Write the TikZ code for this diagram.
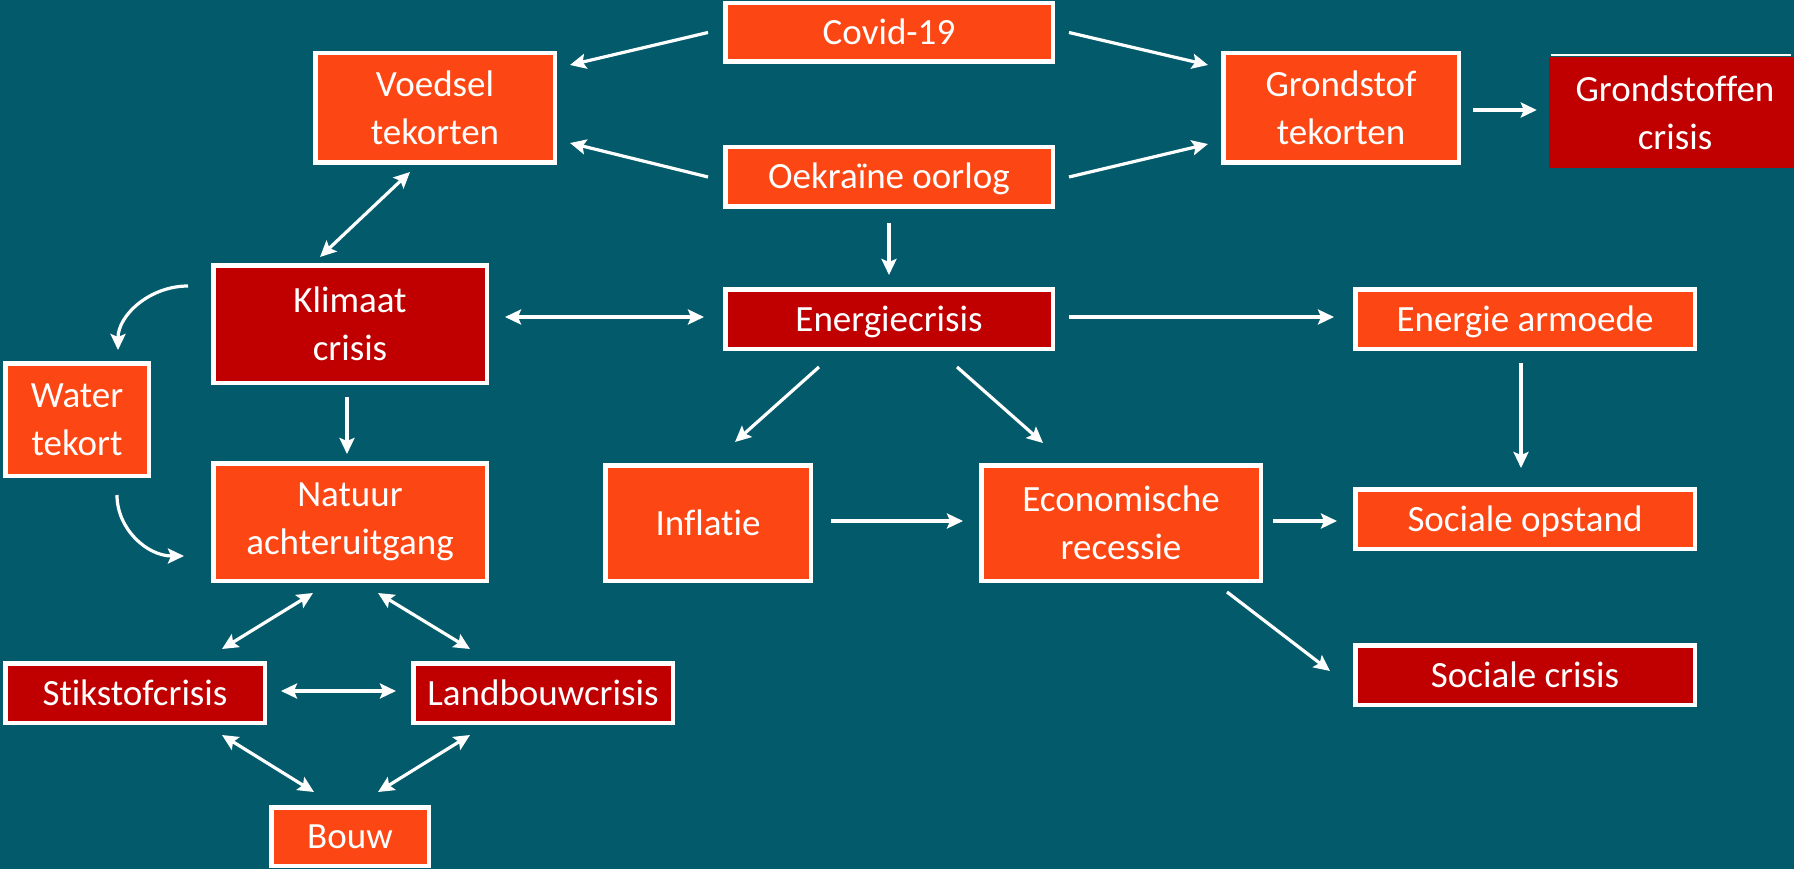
\documentclass[tikz,border=0pt]{standalone}
\usepackage{fontspec}
\setmainfont{Carlito}[Ligatures=NoCommon]
\usetikzlibrary{arrows.meta,calc}
\definecolor{bgc}{HTML}{025A6B}
\definecolor{orng}{HTML}{FC4614}
\definecolor{dred}{HTML}{C00000}
\tikzset{
 box/.style={draw=white, line width=4.5pt, inner sep=0pt, text=white, font=\fontsize{37}{48}\selectfont, align=center},
 ob/.style={box, fill=orng},
 rb/.style={box, fill=dred},
 one/.style={text height=29pt, text depth=5pt},
 tipa/.tip={Stealth[length=16pt,width=15pt,inset=3pt]},
 arr/.style={draw=white, line width=3.2pt, -tipa},
 darr/.style={draw=white, line width=3.2pt, tipa-tipa},
}
\begin{document}
\begin{tikzpicture}[x=1pt,y=-1pt]
\fill[bgc] (0,0) rectangle (1794,869);
\useasboundingbox (0,0) rectangle (1794,869);

% nodes
\node[ob,one,minimum width=327.5pt,minimum height=58.5pt] (covid) at (889,32.5) {Covid-19};
\node[ob,minimum width=239.5pt,minimum height=109.5pt] (voedsel) at (435,108) {Voedsel\\tekorten};
\node[ob,one,minimum width=327.5pt,minimum height=59.5pt] (oek) at (889,177) {Oekraïne oorlog};
\node[ob,minimum width=235.5pt,minimum height=109.5pt] (grond) at (1341,108) {Grondstof\\tekorten};
\node[fill=dred,inner sep=0pt,text=white,font=\fontsize{37}{48}\selectfont,align=center,minimum width=252pt,minimum height=111pt] (gcr) at (1675,112.5) {Grondstoffen\\crisis};
\draw[white,line width=2pt] ([shift={(2,-1.3)}]gcr.north west) -- ([shift={(-10,-1.3)}]gcr.north east);
\node[rb,minimum width=273.5pt,minimum height=117.5pt] (klimaat) at (350,324) {Klimaat\\crisis};
\node[rb,one,minimum width=327.5pt,minimum height=59.5pt] (energie) at (889,319) {Energiecrisis};
\node[ob,one,minimum width=339.5pt,minimum height=59.5pt] (armoede) at (1525,319) {Energie armoede};
\node[ob,minimum width=143.5pt,minimum height=112.5pt] (water) at (77,419.5) {Water\\tekort};
\node[ob,minimum width=273.5pt,minimum height=117.5pt] (natuur) at (350,522) {Natuur\\achteruitgang};
\node[ob,one,minimum width=205.5pt,minimum height=115.5pt] (inflatie) at (708,523) {Inflatie};
\node[ob,minimum width=279.5pt,minimum height=115.5pt] (econ) at (1121,523) {Economische\\recessie};
\node[ob,one,minimum width=339.5pt,minimum height=59.5pt] (opstand) at (1525,519) {Sociale opstand};
\node[rb,one,minimum width=339.5pt,minimum height=59.5pt] (scrisis) at (1525,675) {Sociale crisis};
\node[rb,one,minimum width=259.5pt,minimum height=59.5pt] (stik) at (135,693) {Stikstofcrisis};
\node[rb,one,minimum width=259.5pt,minimum height=59.5pt] (land) at (543,693) {Landbouwcrisis};
\node[ob,one,minimum width=157.5pt,minimum height=58.5pt] (bouw) at (350,836.5) {Bouw};

% connectors
\draw[arr] ([shift={(-15,0)}]covid.west) -- ([shift={(13,14)}]voedsel.north east);
\draw[arr] ([shift={(-15,0)}]oek.west) -- ([shift={(13,-22)}]voedsel.south east);
\draw[arr] ([shift={(14,0)}]covid.east) -- ([shift={(-13,14)}]grond.north west);
\draw[arr] ([shift={(14,0)}]oek.east) -- ([shift={(-13,-21)}]grond.south west);
\draw[arr] ([shift={(12,2)}]grond.east) -- ([shift={(-12,-2.5)}]gcr.west);
\draw[darr] ([shift={(-25,7)}]voedsel.south) -- ([shift={(-30,-6)}]klimaat.north);
\draw[arr] ([shift={(-23,-38)}]klimaat.west) .. controls +(-38,0) and +(0,-35) .. ([shift={(41,-11)}]water.north);
\draw[darr] ([shift={(16,-7)}]klimaat.east) -- ([shift={(-19,-2)}]energie.west);
\draw[arr] ([shift={(0,14)}]oek.south) -- ([shift={(0,-12)}]energie.north);
\draw[arr] ([shift={(-3,12)}]klimaat.south) -- ([shift={(-3,-7)}]natuur.north);
\draw[arr] ([shift={(40,17)}]water.south) .. controls +(0,34) and +(-37,0) .. ([shift={(-27,34)}]natuur.west);
\draw[arr] ([shift={(14,-2)}]energie.east) -- ([shift={(-19,-2)}]armoede.west);
\draw[arr] ([shift={(-70,16)}]energie.south) -- ([shift={(27,-21)}]inflatie.north);
\draw[arr] ([shift={(68,16)}]energie.south) -- ([shift={(-78,-20)}]econ.north);
\draw[arr] ([shift={(-4,12)}]armoede.south) -- ([shift={(-4,-19)}]opstand.north);
\draw[arr] ([shift={(18,-2)}]inflatie.east) -- ([shift={(-16,-2)}]econ.west);
\draw[arr] ([shift={(10,-2)}]econ.east) -- ([shift={(-16,2)}]opstand.west);
\draw[arr] ([shift={(106,9)}]econ.south) -- ([shift={(-23,-4)}]scrisis.west);
\draw[darr] ([shift={(-37,10)}]natuur.south) -- ([shift={(87,-12)}]stik.north);
\draw[darr] ([shift={(28,10)}]natuur.south) -- ([shift={(-73,-12)}]land.north);
\draw[darr] ([shift={(14,-2)}]stik.east) -- ([shift={(-15,-2)}]land.west);
\draw[darr] ([shift={(87,10)}]stik.south) -- ([shift={(-36,-13)}]bouw.north);
\draw[darr] ([shift={(-73,10)}]land.south) -- ([shift={(28,-13)}]bouw.north);
\end{tikzpicture}
\end{document}
